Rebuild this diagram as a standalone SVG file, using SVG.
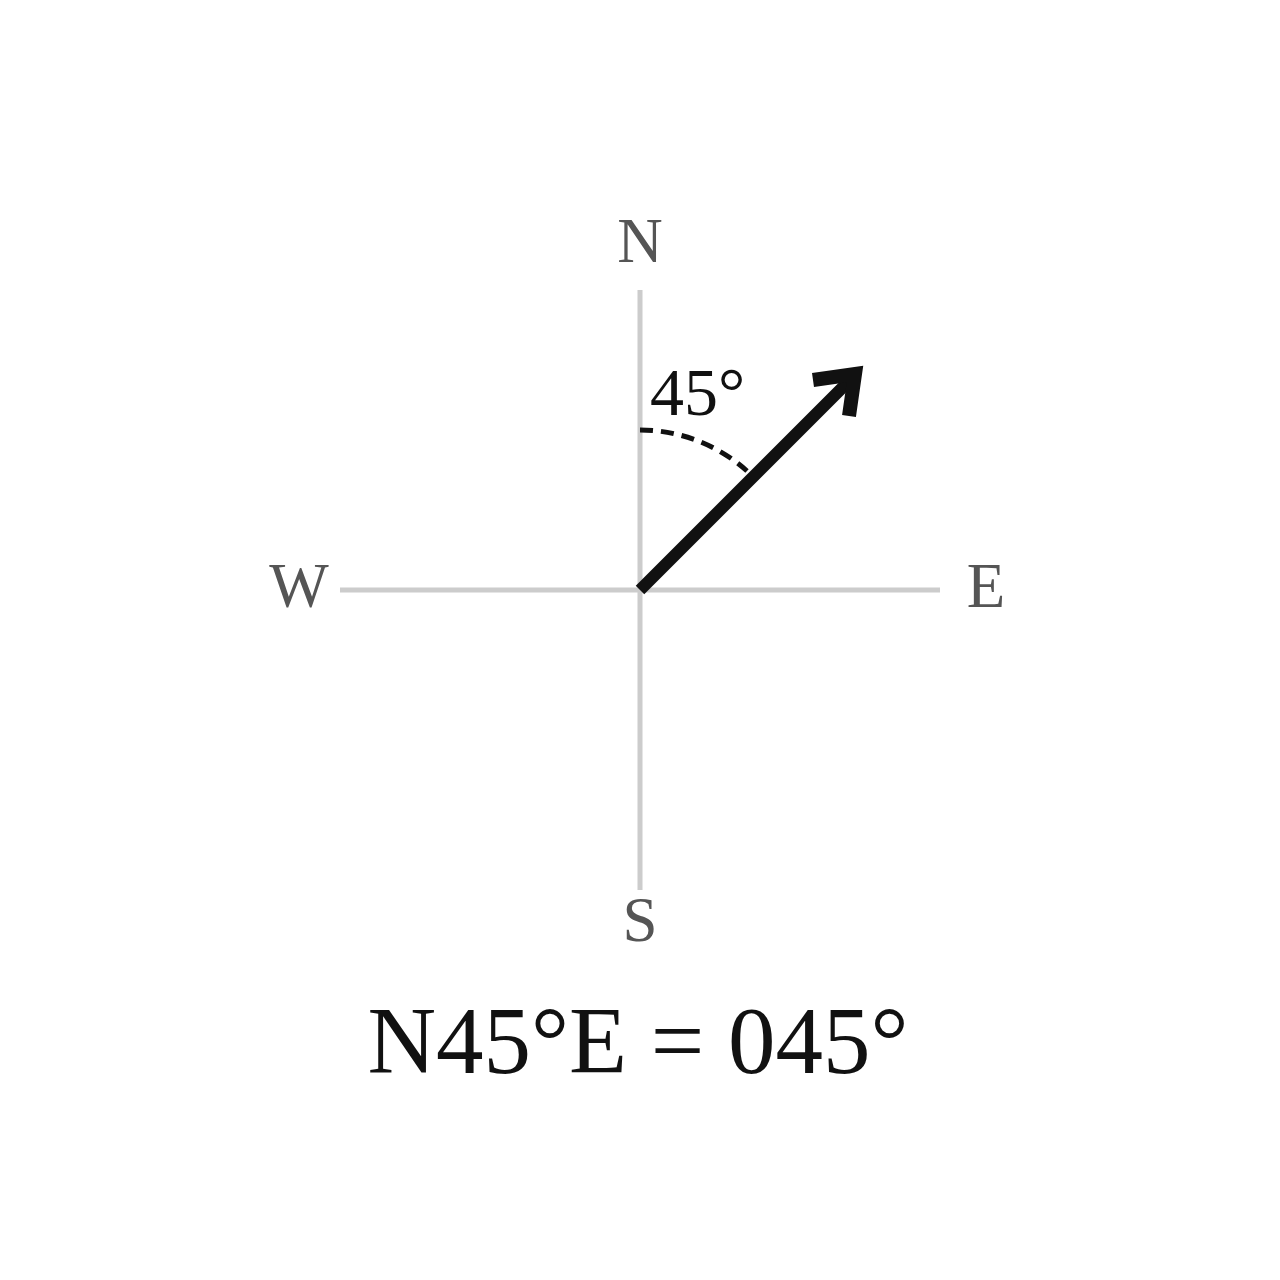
<svg xmlns="http://www.w3.org/2000/svg" width="1280" height="1280" viewBox="0 0 1280 1280">
<style>
.axis{stroke:#cccccc;stroke-width:5;fill:none}
.lbl{font-family:"Liberation Serif","DejaVu Serif",serif;fill:#555555;font-size:63px;text-anchor:middle}
.txt{font-family:"Liberation Serif","DejaVu Serif",serif;fill:#111111;font-variant-numeric:oldstyle-nums}
</style>
<rect width="1280" height="1280" fill="#ffffff"/>
<g id="axes">
<line class="axis" x1="640" y1="290" x2="640" y2="890"/>
<line class="axis" x1="340" y1="590" x2="940" y2="590"/>
</g>
<g id="label-N"><text class="lbl" x="640" y="262">N</text></g>
<g id="label-S"><text class="lbl" x="640" y="941">S</text></g>
<g id="label-W"><text class="lbl" x="299" y="607">W</text></g>
<g id="label-E"><text class="lbl" x="986" y="607">E</text></g>
<g id="connectors">
<path d="M640,430 A160,160 0 0 1 747,471" fill="none" stroke="#111111" stroke-width="5" stroke-dasharray="13,8"/>
<line x1="640" y1="590" x2="852" y2="378" stroke="#111111" stroke-width="12"/>
<polyline points="813,380 855,374 849,416" fill="none" stroke="#111111" stroke-width="14" stroke-linejoin="miter"/>
</g>
<g id="angle-label"><text class="txt" x="650" y="415" font-size="68">45°</text></g>
<g id="caption"><text class="txt" x="638" y="1073" font-size="95" text-anchor="middle">N45°E = 045°</text></g>
</svg>
